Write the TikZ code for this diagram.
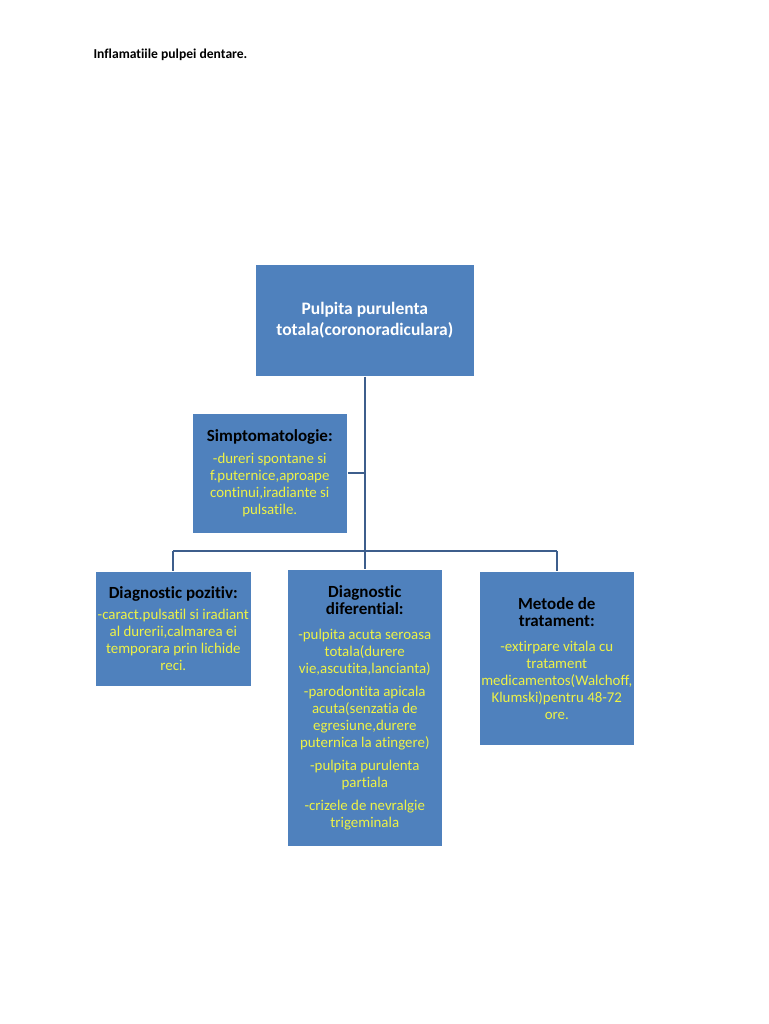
\documentclass[tikz,border=0pt]{standalone}
\usepackage{fontspec}
\setmainfont{Carlito}[RawFeature=-liga]
\definecolor{boxblue}{RGB}{79,129,189}
\definecolor{linecol}{RGB}{61,94,140}
\definecolor{txtyel}{RGB}{238,242,70}
\begin{document}
\begin{tikzpicture}[x=1pt,y=-1pt,
  box/.style={fill=boxblue, draw=white, line width=0.6pt, inner sep=0pt, align=flush center, anchor=north west,
    text=txtyel, font=\fontsize{14.9}{17}\selectfont},
  conn/.style={draw=linecol, line width=2.4pt}
]
\useasboundingbox (0,0) rectangle (768,1024);
\fill[white] (0,0) rectangle (768,1024);
\newcommand{\hdr}[1]{{\fontsize{17}{18}\selectfont\bfseries\color{black}#1}}
\node[anchor=west, font=\fontsize{13.6}{15}\selectfont\bfseries] (title) at (90,55) {Inflamatiile pulpei dentare.};

\node[box, minimum width=219pt, minimum height=112pt, text width=219pt, text=white, font=\fontsize{17.5}{21}\selectfont\bfseries] (top) at (255,264)
  {Pulpita purulenta\\ totala(coronoradiculara)};

\node[box, minimum width=155pt, minimum height=120pt, text width=155pt] (simp) at (192,413)
  {\hdr{Simptomatologie:}\\[5pt]
   -dureri spontane si\\ f.puternice,aproape\\ continui,iradiante si\\ pulsatile.};

\node[box, minimum width=156pt, minimum height=115pt, text width=156pt] (poz) at (95,571)
  {\hdr{Diagnostic pozitiv:}\\[4pt]
   -caract.pulsatil si iradiant\\ al durerii,calmarea ei\\ temporara prin lichide\\ reci.};

\node[box, minimum width=155pt, minimum height=277pt, text width=155pt] (dif) at (287,569)
  {\hdr{Diagnostic}\\ \hdr{diferential:}\\[8pt]
   -pulpita acuta seroasa\\ totala(durere\\ vie,ascutita,lancianta)\\[6pt]
   -parodontita apicala\\ acuta(senzatia de\\ egresiune,durere\\ puternica la atingere)\\[6pt]
   -pulpita purulenta\\ partiala\\[6pt]
   -crizele de nevralgie\\ trigeminala};

\node[box, minimum width=155pt, minimum height=174pt, text width=155pt] (met) at (479,571)
  {\hdr{Metode de}\\ \hdr{tratament:}\\[8pt]
   -extirpare vitala cu\\ tratament\\ medicamentos(Walchoff,\\ Klumski)pentru 48-72\\ ore.};

\coordinate (j) at (365,551);
\coordinate (jl) at (173,551);
\coordinate (jr) at (557,551);
\coordinate (js) at (365,473);

\draw[conn] (top.south -| j) -- (j);
\draw[conn] (simp.east |- js) -- (js);
\draw[conn] (jl) -- (jr);
\draw[conn] (jl) -- (jl |- poz.north);
\draw[conn] (j) -- (j |- dif.north);
\draw[conn] (jr) -- (jr |- met.north);
\end{tikzpicture}
\end{document}
